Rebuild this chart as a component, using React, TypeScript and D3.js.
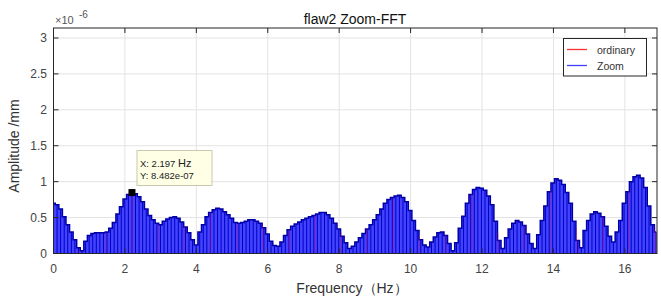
import React from "react";
import * as d3 from "d3";

// ---- data (amplitude in 1e-6 mm) ----
const zoomStep = 0.09986; // Hz, zoom-FFT resolution
const zoomValues = [
  0.70, 0.68, 0.62, 0.51, 0.40, 0.30, 0.19, 0.08, 0.04, 0.17,
  0.25, 0.28, 0.29, 0.29, 0.29, 0.30, 0.35, 0.43, 0.55, 0.65,
  0.76, 0.82, 0.848, 0.83, 0.79, 0.72, 0.62, 0.53, 0.47, 0.42,
  0.40, 0.45, 0.48, 0.50, 0.51, 0.49, 0.44, 0.37, 0.29, 0.19,
  0.12, 0.30, 0.40, 0.51, 0.57, 0.61, 0.63, 0.62, 0.58, 0.54,
  0.49, 0.43, 0.42, 0.43, 0.45, 0.47, 0.47, 0.45, 0.42, 0.36,
  0.27, 0.17, 0.11, 0.10, 0.16, 0.25, 0.33, 0.38, 0.41, 0.44,
  0.47, 0.49, 0.51, 0.53, 0.55, 0.57, 0.57, 0.54, 0.49, 0.42,
  0.34, 0.24, 0.15, 0.07, 0.10, 0.16, 0.22, 0.28, 0.34, 0.40,
  0.47, 0.54, 0.62, 0.70, 0.75, 0.78, 0.80, 0.81, 0.78, 0.72,
  0.60, 0.46, 0.32, 0.19, 0.12, 0.09, 0.16, 0.23, 0.29, 0.30,
  0.25, 0.14, 0.04, 0.15, 0.35, 0.52, 0.70, 0.82, 0.89, 0.92,
  0.91, 0.88, 0.80, 0.68, 0.45, 0.18, 0.07, 0.22, 0.34, 0.42,
  0.46, 0.44, 0.39, 0.27, 0.14, 0.07, 0.26, 0.46, 0.66, 0.86,
  0.98, 1.04, 1.02, 0.96, 0.85, 0.70, 0.45, 0.18, 0.08, 0.32,
  0.46, 0.55, 0.58, 0.56, 0.51, 0.38, 0.24, 0.16, 0.30, 0.46,
  0.70, 0.86, 1.00, 1.07, 1.09, 1.05, 0.92, 0.66, 0.40, 0.30,
];
const ordinaryFreqs = [
  0, 0.732, 1.465, 2.197, 2.929, 3.661, 4.393, 5.126, 5.858, 6.590,
  7.322, 8.054, 8.787, 9.519, 10.251, 10.983, 11.716, 12.448, 13.180,
  13.912, 14.645, 15.377, 16.109, 16.841,
];
const ordinaryValues = [
  0.70, 0.05, 0.29, 0.848, 0.41, 0.40, 0.57, 0.42, 0.39, 0.33,
  0.53, 0.29, 0.34, 0.78, 0.25, 0.26, 0.83, 0.30, 0.40, 0.87,
  0.35, 0.52, 0.88, 0.37,
];
const xTicks = [0, 2, 4, 6, 8, 10, 12, 14, 16];
const yTicks = [0, 0.5, 1, 1.5, 2, 2.5, 3];
const tipX = 2.197;
const tipY = 0.8482;

const W = 661;
const H = 297;
const L = 53.5, R = 657, T = 28, B = 253.5;
const FONT = "'Liberation Sans', Arial, sans-serif";
const AX = "#262626";

type P = { f: number; v: number };

export default function App() {
  const x = d3.scaleLinear().domain([0, 16.9]).range([L, R]);
  const y = d3.scaleLinear().domain([0, 3.139]).range([B, T]);
  const zoom: P[] = zoomValues.map((v, i) => ({ f: i * zoomStep, v }));
  const ordinary: P[] = ordinaryFreqs.map((f, i) => ({ f, v: ordinaryValues[i] }));
  const area = d3
    .area<P>()
    .x((d) => x(d.f))
    .y0(B)
    .y1((d) => y(d.v))
    .curve(d3.curveStep);
  const outline = d3
    .line<P>()
    .x((d) => x(d.f))
    .y((d) => y(d.v))
    .curve(d3.curveStep);

  return (
    <svg
      width={W}
      height={H}
      style={{ position: "fixed", left: 0, top: 0, background: "#fff" }}
      fontFamily={FONT}
    >
      <rect x={0} y={0} width={W} height={H} fill="#fff" />
      {/* grid */}
      {xTicks.map((t) => (
        <line key={"gx" + t} x1={x(t)} x2={x(t)} y1={T} y2={B} stroke="#e3e3e3" strokeWidth={1} />
      ))}
      {yTicks.map((t) => (
        <line key={"gy" + t} x1={L} x2={R} y1={y(t)} y2={y(t)} stroke="#e3e3e3" strokeWidth={1} />
      ))}
      <defs>
        <clipPath id="plotclip">
          <rect x={L} y={T} width={R - L} height={B - T} />
        </clipPath>
      </defs>
      <g clipPath="url(#plotclip)">
        {/* zoom stems (blue) */}
        <path d={area(zoom) || ""} fill="#4242ff" />
        {zoom.map((d, i) => (
          <line key={"z" + i} x1={x(d.f)} x2={x(d.f)} y1={B} y2={y(d.v)} stroke="#0000c4" strokeWidth={1} />
        ))}
        <path d={outline(zoom) || ""} fill="none" stroke="#0000a8" strokeWidth={1.5} />
        {/* ordinary stems (red), faintly visible through the dense zoom stems */}
        {ordinary.map((d, i) => (
          <line key={"o" + i} x1={x(d.f)} x2={x(d.f)} y1={B} y2={y(d.v)} stroke="#e01060" strokeWidth={1} opacity={0.4} />
        ))}
      </g>
      {/* axes box */}
      <rect x={L} y={T} width={R - L} height={B - T} fill="none" stroke={AX} strokeWidth={1} />
      {xTicks.map((t) => (
        <g key={"xt" + t}>
          <line x1={x(t)} x2={x(t)} y1={B} y2={B - 5} stroke={AX} />
          <line x1={x(t)} x2={x(t)} y1={T} y2={T + 5} stroke={AX} />
          <text x={x(t)} y={273} textAnchor="middle" fontSize={12} fill="#444">
            {t}
          </text>
        </g>
      ))}
      {yTicks.map((t) => (
        <g key={"yt" + t}>
          <line x1={L} x2={L + 5} y1={y(t)} y2={y(t)} stroke={AX} />
          <line x1={R} x2={R - 5} y1={y(t)} y2={y(t)} stroke={AX} />
          <text x={47} y={y(t) + 4.5} textAnchor="end" fontSize={12} fill="#444">
            {t}
          </text>
        </g>
      ))}
      {/* exponent */}
      <text x={55} y={24} fontSize={11} fill="#555">
        ×10
      </text>
      <text x={79} y={18} fontSize={10} fill="#555">
        -6
      </text>
      {/* title */}
      <text x={355} y={24} textAnchor="middle" fontSize={14} fill="#111">
        flaw2 Zoom-FFT
      </text>
      {/* axis labels */}
      <text x={352} y={293} textAnchor="middle" fontSize={14} fill="#333">
        Frequency（Hz）
      </text>
      <text
        transform={`translate(19,${146}) rotate(-90)`}
        textAnchor="middle"
        fontSize={14}
        fill="#333"
      >
        Amplitude /mm
      </text>
      {/* legend */}
      <rect x={563.5} y={38.5} width={83} height={37.5} fill="#fff" stroke={AX} strokeWidth={1} />
      <line x1={567} x2={587} y1={49.5} y2={49.5} stroke="#ff3030" strokeWidth={1.3} />
      <line x1={567} x2={587} y1={65.5} y2={65.5} stroke="#4040ff" strokeWidth={1.3} />
      <text x={597} y={53.5} fontSize={10.5} fill="#333">
        ordinary
      </text>
      <text x={597} y={69.5} fontSize={10.5} fill="#333">
        Zoom
      </text>
      {/* datatip */}
      <rect x={137} y={150.5} width={75} height={35} fill="#ffffe6" stroke="#c8c8b0" strokeWidth={1} />
      <text x={140} y={167} fontSize={9.5} fill="#222">
        X: 2.197 <tspan fontSize={11}>Hz</tspan>
      </text>
      <text x={140} y={179} fontSize={9.5} fill="#222">
        Y: 8.482e-07
      </text>
      <rect x={x(tipX) - 3.5} y={y(tipY) - 3.5} width={7} height={7} fill="#000" />
    </svg>
  );
}
